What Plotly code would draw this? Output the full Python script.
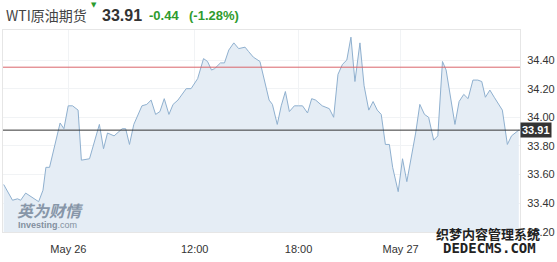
import plotly.graph_objects as go

# ---- data (hours since May 25 00:00 on the chart's own time axis) ----
hours = [0.96, 1.47, 1.76, 1.94, 2.23, 2.61, 2.98, 3.23, 3.40, 3.61, 3.93, 4.22, 4.44, 4.69,
         4.94, 5.26, 5.45, 5.92, 6.49, 6.73, 6.96, 7.34, 7.81, 8.01, 8.23, 8.48, 8.95, 9.23,
         9.48, 9.74, 9.99, 10.24, 10.51, 10.75, 11.03, 11.51, 11.79, 12.17, 12.51, 12.74,
         12.97, 13.15, 13.49, 13.72, 13.97, 14.26, 14.54, 14.91, 15.11, 15.39, 15.77, 15.96,
         16.30, 16.49, 16.77, 17.00, 17.24, 17.47, 17.76, 18.01, 18.23, 18.52, 18.76, 18.99,
         19.37, 19.78, 20.03, 20.28, 20.54, 20.79, 21.03, 21.26, 21.55, 21.79, 22.06, 22.31,
         22.55, 22.78, 23.02, 23.25, 23.44, 23.76, 24.01, 24.26, 24.77, 25.01, 25.28, 25.52,
         25.81, 26.05, 26.32, 26.53, 27.04, 27.28, 27.55, 27.80, 28.08, 28.36, 28.59, 28.80,
         29.06, 29.31, 29.78, 30.07, 30.31, 30.73]
prices = [33.53, 33.42, 33.43, 33.42, 33.47, 33.44, 33.41, 33.49, 33.65, 33.65, 33.81, 33.96,
          33.92, 34.08, 34.08, 34.05, 33.70, 33.71, 33.95, 33.78, 33.89, 33.87, 33.92, 33.92,
          33.81, 33.95, 34.08, 34.09, 34.12, 34.02, 34.04, 34.13, 34.02, 34.09, 34.12, 34.20,
          34.20, 34.27, 34.41, 34.39, 34.33, 34.34, 34.38, 34.38, 34.47, 34.52, 34.48, 34.49,
          34.46, 34.42, 34.39, 34.30, 34.12, 34.09, 33.95, 34.08, 34.18, 34.04, 34.08, 34.08,
          34.08, 34.03, 34.13, 34.12, 34.08, 34.06, 34.00, 34.30, 34.37, 34.40, 34.56, 34.25,
          34.52, 34.22, 34.05, 34.11, 34.05, 34.02, 33.81, 33.81, 33.65, 33.48, 33.71, 33.55,
          33.89, 34.09, 34.02, 34.00, 33.84, 33.87, 34.39, 34.33, 33.95, 34.11, 34.16, 34.13,
          34.26, 34.26, 34.25, 34.14, 34.19, 34.14, 34.05, 33.81, 33.87, 33.91]

tick_hours = [4.7, 12, 18, 23.9]
tick_labels = ["May 26", "12:00", "18:00", "May 27"]
price_ticks = [33.2, 33.4, 33.6, 33.8, 34.0, 34.2, 34.4]
price_tick_labels = ["33.20", "33.40", "33.60", "33.80", "34.00", "34.20", "34.40"]

title_name = "WTI原油期货"
last_price = 33.91
change = "-0.44"
change_pct = "(-1.28%)"
ref_price = 34.35

W, H = 557, 262
ML, MR, MT, MB = 2, 29, 30, 30
PW, PH = W - ML - MR, H - MT - MB


def px(x):
    return (x - ML) / PW


def py(y):
    return (H - MB - y) / PH


fig = go.Figure()
fig.add_trace(go.Scatter(
    x=hours, y=prices, mode="lines",
    line=dict(color="#8fb0cf", width=1),
    fill="tozeroy", fillcolor="#e5edf5",
    hoverinfo="skip", showlegend=False,
))

tick_font = dict(family="Liberation Sans, Arial, sans-serif", size=11, color="#333333")

fig.update_layout(
    width=W, height=H,
    margin=dict(l=ML, r=MR, t=MT, b=MB, pad=0),
    paper_bgcolor="white", plot_bgcolor="white",
    xaxis=dict(range=[0.92, 30.8], tickmode="array", tickvals=tick_hours, ticktext=tick_labels,
               showgrid=True, gridcolor="#f1f3f5", zeroline=False,
               showline=True, linecolor="#e6e6e6", mirror=True,
               ticks="outside", ticklen=7, tickcolor="rgba(0,0,0,0)",
               tickfont=tick_font, fixedrange=True),
    yaxis=dict(range=[33.198, 34.61], side="right", tickmode="array",
               tickvals=price_ticks, ticktext=price_tick_labels,
               showgrid=True, gridcolor="#f1f3f5", zeroline=False,
               showline=True, linecolor="#e6e6e6", mirror=True,
               ticks="outside", ticklen=4, tickcolor="rgba(0,0,0,0)",
               tickfont=tick_font, fixedrange=True),
    shapes=[
        dict(type="line", xref="paper", x0=0, x1=1, yref="y", y0=ref_price, y1=ref_price,
             line=dict(color="#d9646a", width=1)),
        dict(type="line", xref="paper", x0=0, x1=1, yref="y", y0=last_price, y1=last_price,
             line=dict(color="#333333", width=1)),
    ],
)

cjk = "Noto Sans CJK SC, Liberation Sans, sans-serif"
green = "#2e9b2e"
annotations = [
    dict(x=px(3), y=py(15), text=title_name, xanchor="left", yanchor="middle",
         font=dict(family=cjk, size=14, color="#444444")),
    dict(x=px(95), y=py(5), text="▼", xanchor="center", yanchor="middle",
         font=dict(family="DejaVu Sans", size=7, color=green)),
    dict(x=px(101), y=py(16), text="<b>%.2f</b>" % last_price, xanchor="left", yanchor="middle",
         font=dict(family="Liberation Sans, Arial", size=16, color="#333333")),
    dict(x=px(149), y=py(16), text="<b>%s</b>" % change, xanchor="left", yanchor="middle",
         font=dict(family="Liberation Sans, Arial", size=13, color=green)),
    dict(x=px(189), y=py(16), text="<b>%s</b>" % change_pct, xanchor="left", yanchor="middle",
         font=dict(family="Liberation Sans, Arial", size=13, color=green)),
    # last price marker on the axis
    dict(x=1, xref="paper", y=last_price, yref="y", text="<b>%.2f</b>" % last_price,
         xanchor="left", yanchor="middle", bgcolor="#333333", borderpad=1,
         font=dict(family="Liberation Sans, Arial", size=11, color="white")),
    # watermarks
    dict(x=px(14), y=py(210), text="<b><i>英为财情</i></b>", xanchor="left", yanchor="middle",
         font=dict(family=cjk, size=16, color="#8796a8")),
    dict(x=px(15), y=py(225), text="<b>Investing</b>.com", xanchor="left", yanchor="middle",
         font=dict(family="Liberation Sans, Arial", size=9, color="#8390a0")),
    dict(x=px(550), y=py(233), text="<b>织梦内容管理系统</b>", xanchor="right", yanchor="middle",
         font=dict(family=cjk, size=13, color="#222222")),
    dict(x=px(546), y=py(248), text="<b>DEDECMS.COM</b>", xanchor="right", yanchor="middle",
         font=dict(family="DejaVu Sans Mono", size=14, color="#222222")),
]
for a in annotations:
    a.setdefault("xref", "paper")
    a.setdefault("yref", "paper")
    a["showarrow"] = False
fig.update_layout(annotations=annotations)

fig.write_html("out.html", config={"displayModeBar": False})
